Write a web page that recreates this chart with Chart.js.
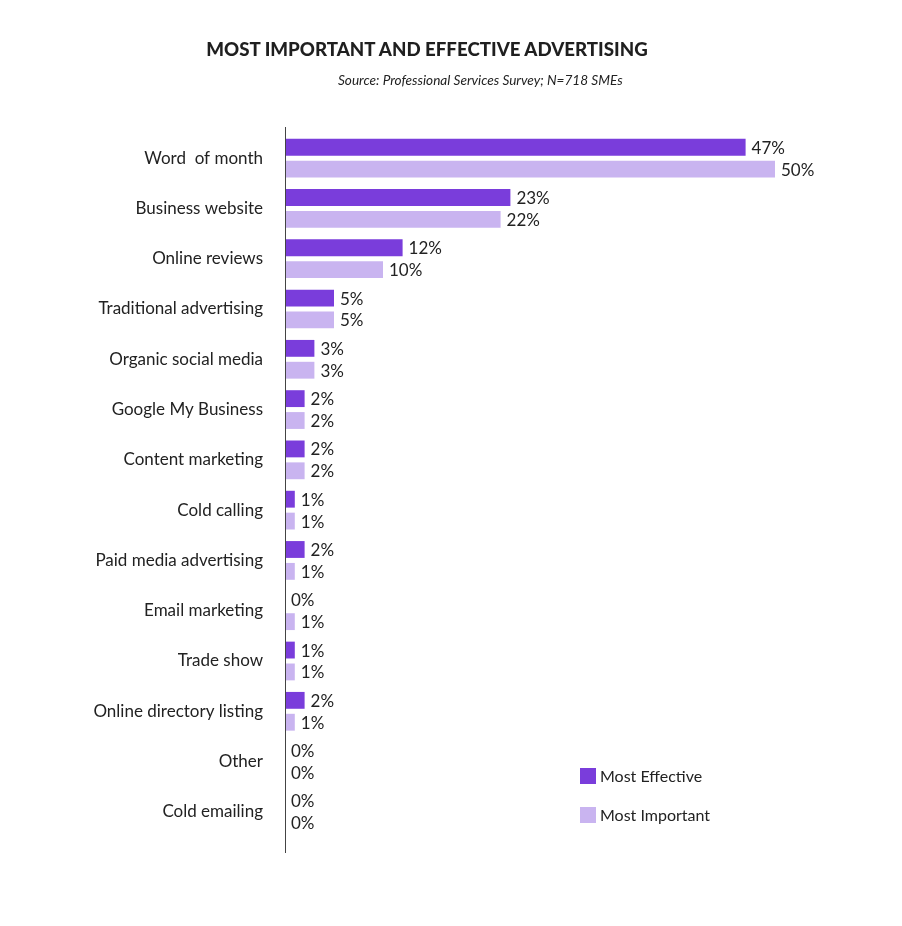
<!DOCTYPE html>
<html>
<head>
<meta charset="utf-8">
<script src="https://cdn.jsdelivr.net/npm/chart.js@4"></script>
<style>
  body { margin: 0; background: #fff; font-family: Lato, sans-serif; }
  #wrap { position: relative; width: 902px; height: 926px; }
  #title { position: absolute; left: 0; width: 854px; top: 38px; text-align: center;
           font-size: 18.7px; font-weight: 900; color: #1f1f1f; }
  #sub { position: absolute; left: 338px; top: 72px; font-size: 13.6px; font-style: italic; color: #222; }
  .leg { position: absolute; left: 580px; font-size: 16px; color: #222; display: flex; align-items: center; }
  .leg span { display: inline-block; width: 16px; height: 16px; margin-right: 4px; }
</style>
</head>
<body>
<div id="wrap">
  <canvas id="chart" width="902" height="926"></canvas>
  <div id="title">MOST IMPORTANT AND EFFECTIVE ADVERTISING</div>
  <div id="sub">Source: Professional Services Survey; N=718 SMEs</div>
  <div class="leg" style="top:766px"><span style="background:#7a3ddb"></span>Most Effective</div>
  <div class="leg" style="top:805px"><span style="background:#c9b4f0"></span>Most Important</div>
</div>
<script>
const categories = ["Word  of month", "Business website", "Online reviews", "Traditional advertising",
  "Organic social media", "Google My Business", "Content marketing", "Cold calling",
  "Paid media advertising", "Email marketing", "Trade show", "Online directory listing",
  "Other", "Cold emailing"];
const mostEffective = [47, 23, 12, 5, 3, 2, 2, 1, 2, 0, 1, 2, 0, 0];
const mostImportant = [50, 22, 10, 5, 3, 2, 2, 1, 1, 1, 1, 1, 0, 0];

// value labels after each bar
const valueLabels = {
  id: "valueLabels",
  afterDatasetsDraw(chart) {
    const ctx = chart.ctx;
    ctx.save();
    ctx.font = "17px Lato, sans-serif";
    ctx.fillStyle = "#222";
    ctx.textBaseline = "middle";
    chart.data.datasets.forEach((ds, i) => {
      chart.getDatasetMeta(i).data.forEach((bar, j) => {
        ctx.fillText(ds.data[j] + "%", bar.x + 6, bar.y + 1);
      });
    });
    ctx.restore();
  }
};

// vertical axis line, a bit longer than the plot area
const axisLine = {
  id: "axisLine",
  afterDraw(chart) {
    const ctx = chart.ctx;
    const x = chart.chartArea.left;
    ctx.save();
    ctx.strokeStyle = "#444";
    ctx.lineWidth = 1;
    ctx.beginPath();
    ctx.moveTo(x + 0.5, 127);
    ctx.lineTo(x + 0.5, 853);
    ctx.stroke();
    ctx.restore();
  }
};

new Chart(document.getElementById("chart").getContext("2d"), {
  type: "bar",
  data: {
    labels: categories,
    datasets: [{
      label: "Most Effective",
      data: mostEffective,
      backgroundColor: "#7a3ddb",
      categoryPercentage: 0.87,
      barPercentage: 0.77
    }, {
      label: "Most Important",
      data: mostImportant,
      backgroundColor: "#c9b4f0",
      categoryPercentage: 0.87,
      barPercentage: 0.77
    }]
  },
  options: {
    indexAxis: "y",
    responsive: false,
    animation: false,
    layout: { padding: { top: 133, bottom: 89, right: 127, left: 0 } },
    plugins: {
      legend: { display: false },
      tooltip: { enabled: false }
    },
    scales: {
      x: { display: false, min: 0, max: 50 },
      y: {
        grid: { display: false },
        border: { display: false },
        ticks: { color: "#222", padding: 14, font: { family: "Lato", size: 17 } },
        afterFit(axis) { axis.width = 285; }
      }
    }
  },
  plugins: [valueLabels, axisLine]
});
</script>
</body>
</html>
